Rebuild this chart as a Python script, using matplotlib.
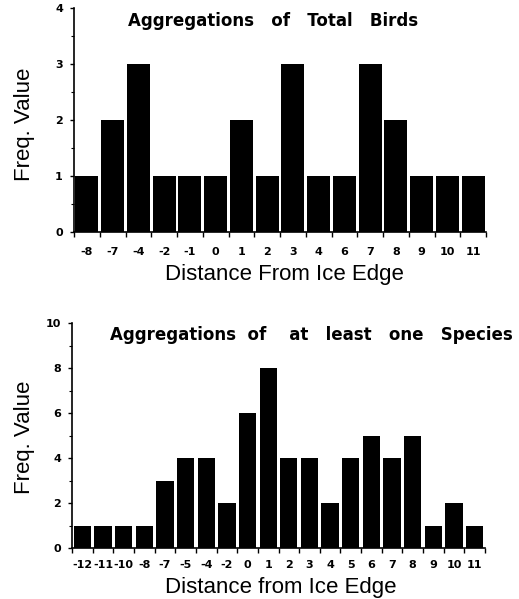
import matplotlib
matplotlib.use("Agg")
import matplotlib.pyplot as plt
import numpy as np
from matplotlib.ticker import FixedLocator, MultipleLocator

# ---- data ----
top_categories = ["-8", "-7", "-4", "-2", "-1", "0", "1", "2", "3", "4", "6", "7", "8", "9", "10", "11"]
top_values = [1, 2, 3, 1, 1, 1, 2, 1, 3, 1, 1, 3, 2, 1, 1, 1]
top_title = "Aggregations   of   Total   Birds"
top_xlabel = "Distance From Ice Edge"

bot_categories = ["-12", "-11", "-10", "-8", "-7", "-5", "-4", "-2", "0", "1",
                  "2", "3", "4", "5", "6", "7", "8", "9", "10", "11"]
bot_values = [1, 1, 1, 1, 3, 4, 4, 2, 6, 8, 4, 4, 2, 4, 5, 4, 5, 1, 2, 1]
bot_title = "Aggregations  of    at   least   one   Species"
bot_xlabel = "Distance from Ice Edge"
ylabel = "Freq. Value"

W, H = 519, 599
fig = plt.figure(figsize=(W / 100, H / 100), dpi=100)

tick_font = dict(family="DejaVu Sans", weight="bold", size=8)
label_font = dict(family="Liberation Sans", size=16)
title_font = dict(family="DejaVu Sans", weight="bold", size=12)


def px_axes(l, r, top, bottom):
    return [l / W, 1 - bottom / H, (r - l) / W, (bottom - top) / H]


def draw(ax, cats, vals, width, ymax, ymaj, ymin, xpad, title, tx, tby, xlabel,
         xl_x, xl_base, yl_x, yl_y, l_px, b_px, t_px, r_px):
    n = len(cats)
    x = np.arange(n)
    ax.bar(x, vals, width=width, color="black", edgecolor="none")
    ax.set_xlim(-0.5, n - 0.5)
    ax.set_ylim(0, ymax)
    for s in ["top", "right"]:
        ax.spines[s].set_visible(False)
    for s in ["left", "bottom"]:
        ax.spines[s].set_linewidth(1.2)
        ax.spines[s].set_color("black")
    # x: labels at centres, ticks at boundaries
    ax.xaxis.set_major_locator(FixedLocator(x))
    ax.set_xticklabels(cats, fontdict=tick_font)
    ax.xaxis.set_minor_locator(FixedLocator(np.arange(n + 1) - 0.5))
    ax.tick_params(axis="x", which="major", length=0, pad=xpad)
    ax.tick_params(axis="x", which="minor", length=3.5, width=1.0, direction="out")
    # y
    ax.yaxis.set_major_locator(MultipleLocator(ymaj))
    ax.yaxis.set_minor_locator(MultipleLocator(ymin))
    ax.tick_params(axis="y", which="major", length=3, width=1.0, pad=5)
    ax.tick_params(axis="y", which="minor", length=2, width=0.8)
    for lab in ax.get_yticklabels():
        lab.set_fontfamily("DejaVu Sans")
        lab.set_fontweight("bold")
        lab.set_fontsize(8)
    # titles / labels
    fig.text(tx / W, 1 - tby / H, title, ha="left", va="baseline", **title_font)
    ax.set_xlabel(xlabel, ha="center", va="baseline", **label_font)
    ax.xaxis.set_label_coords((xl_x - l_px) / (r_px - l_px),
                              (b_px - xl_base) / (b_px - t_px))
    ax.set_ylabel(ylabel, ha="center", va="center", **label_font)
    ax.yaxis.set_label_coords((yl_x - l_px) / (r_px - l_px),
                              (b_px - yl_y) / (b_px - t_px))


# top panel
l1, r1, t1, b1 = 74, 486, 8, 232
ax1 = fig.add_axes(px_axes(l1, r1, t1, b1))
draw(ax1, top_categories, top_values, 0.9, 4, 1, 0.5, 11, top_title, 128, 26,
     top_xlabel, 284, 280, 24.5, 124.5, l1, b1, t1, r1)

# bottom panel
l2, r2, t2, b2 = 72, 485, 323, 548
ax2 = fig.add_axes(px_axes(l2, r2, t2, b2))
draw(ax2, bot_categories, bot_values, 0.84, 10, 2, 1, 8.5, bot_title, 110, 340.5,
     bot_xlabel, 281, 592.5, 24.5, 437.5, l2, b2, t2, r2)

fig.savefig("out.png", dpi=100)
